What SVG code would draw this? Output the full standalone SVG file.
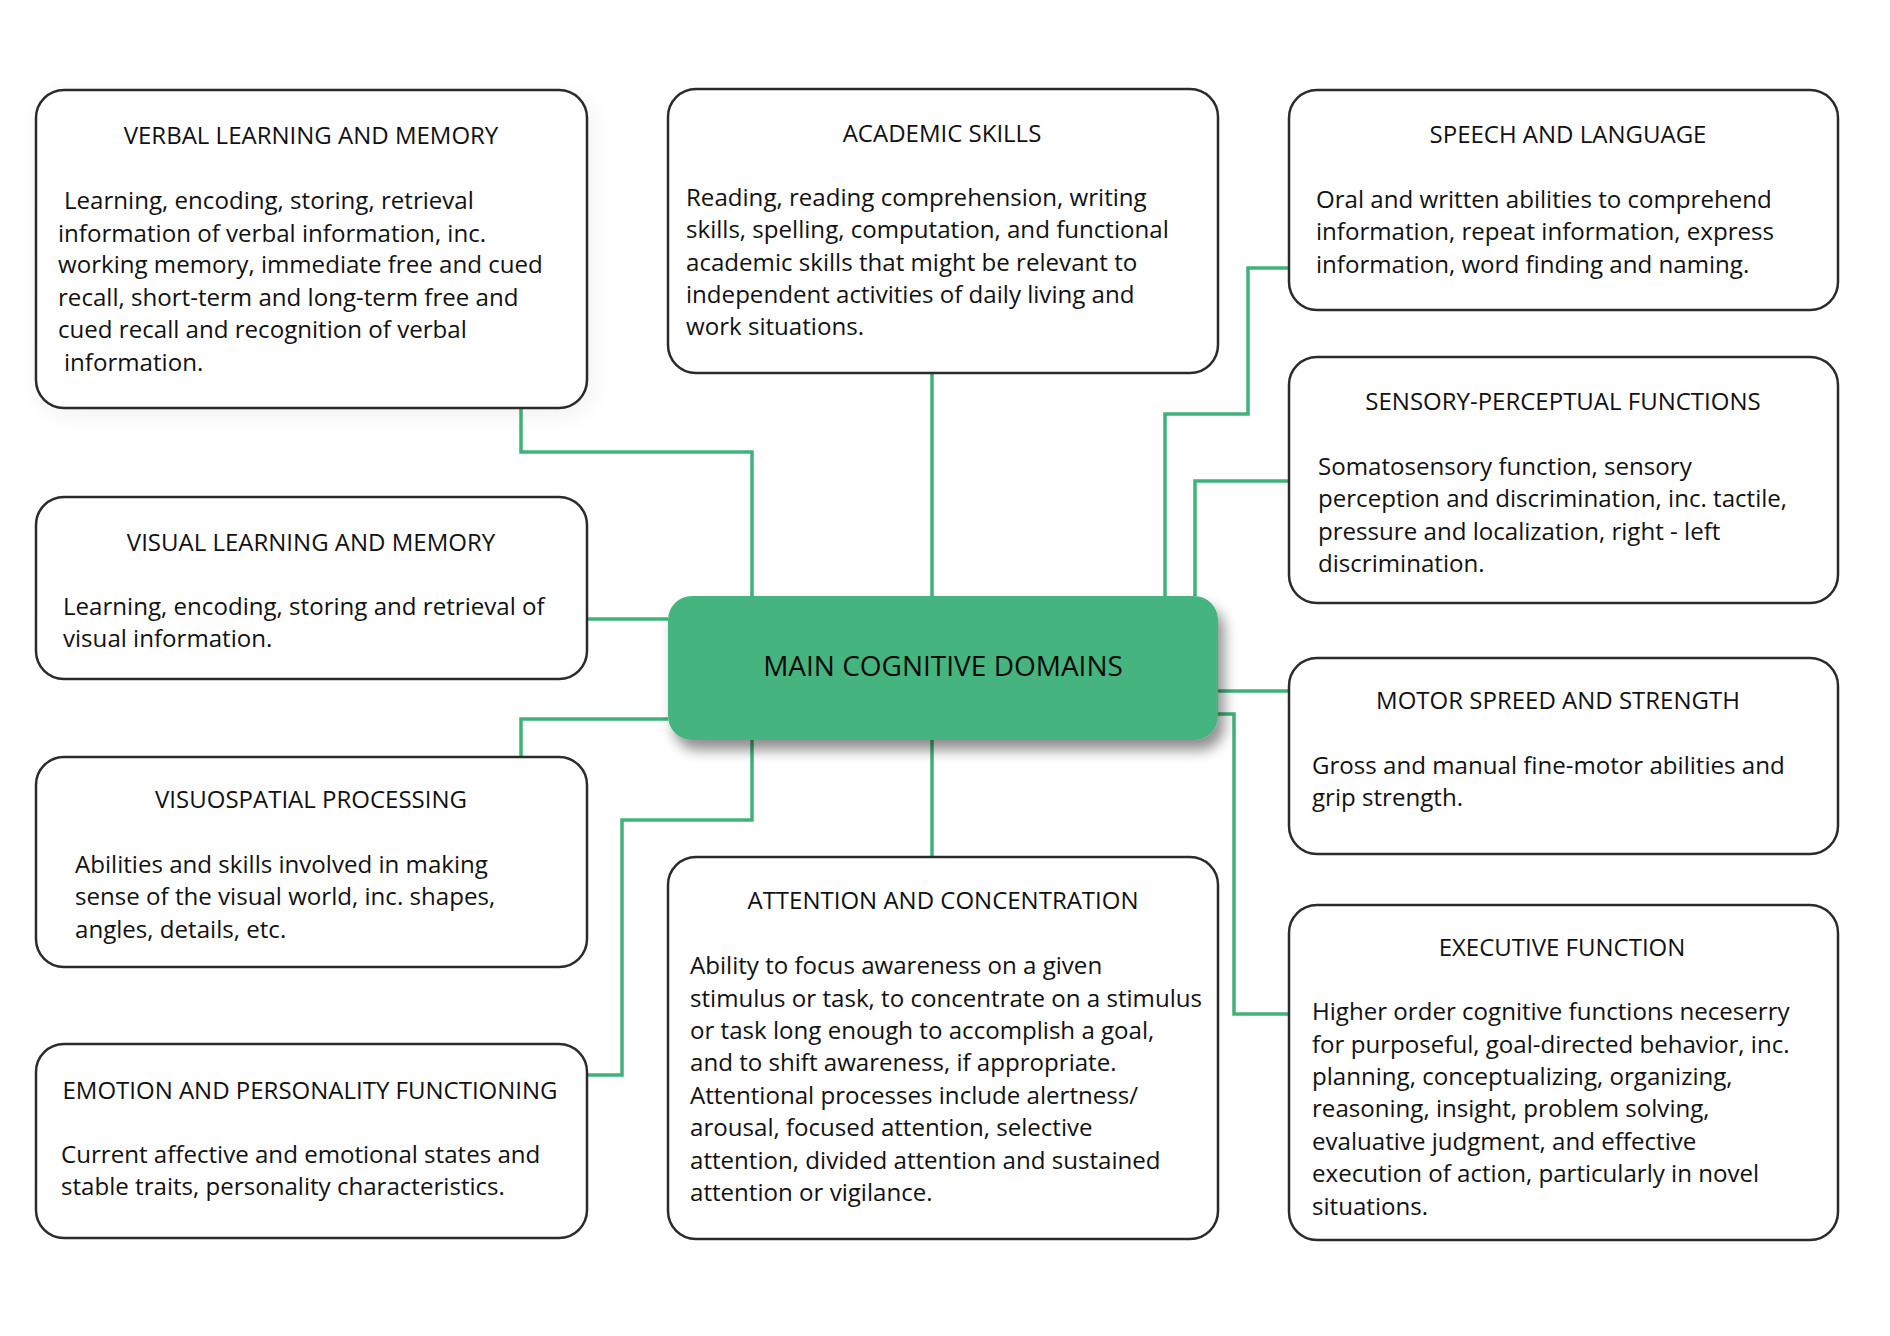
<svg xmlns="http://www.w3.org/2000/svg" width="1890" height="1336" viewBox="0 0 1890 1336">
<defs>
<style>
.box{fill:#fff;stroke:#2b2b2b;stroke-width:2.5}
.main{fill:#45b47f}
.t{font-family:"Open Sans","Noto Sans",sans-serif;font-size:24px;fill:#111;text-anchor:middle}
.b{font-family:"Open Sans","Noto Sans",sans-serif;font-size:24.1px;fill:#111}
.mt{font-family:"Open Sans","Noto Sans",sans-serif;font-size:28px;fill:#0a0a0a;text-anchor:middle}
.c{fill:none;stroke:#3fb37a;stroke-width:3.5}
</style>
<filter id="sh" x="-10%" y="-10%" width="130%" height="140%">
<feGaussianBlur in="SourceAlpha" stdDeviation="7"/>
<feOffset dx="6" dy="10" result="o"/>
<feComponentTransfer><feFuncA type="linear" slope="0.45"/></feComponentTransfer>
<feMerge><feMergeNode/><feMergeNode in="SourceGraphic"/></feMerge>
</filter>
<filter id="sh2" x="-10%" y="-10%" width="130%" height="130%">
<feGaussianBlur in="SourceAlpha" stdDeviation="12"/>
<feOffset dx="4" dy="6" result="o"/>
<feComponentTransfer><feFuncA type="linear" slope="0.06"/></feComponentTransfer>
<feMerge><feMergeNode/><feMergeNode in="SourceGraphic"/></feMerge>
</filter>
</defs>
<rect width="1890" height="1336" fill="#fff"/>
<g id="connectors">
<path class="c" d="M521,408 V452 H752 V596"/>
<path class="c" d="M932,373 V596"/>
<path class="c" d="M1289,268 H1248 V414 H1165 V596"/>
<path class="c" d="M1289,481 H1195 V596"/>
<path class="c" d="M587,619 H668"/>
<path class="c" d="M521,757 V719 H668"/>
<path class="c" d="M587,1075 H622 V820 H752 V740"/>
<path class="c" d="M932,740 V857"/>
<path class="c" d="M1218,691 H1289"/>
<path class="c" d="M1218,714 H1234 V1014 H1289"/>
</g>
<g id="verbal">
<rect class="box" x="36" y="90" width="551" height="318" rx="28" filter="url(#sh2)"/>
<text class="t" x="311" y="144">VERBAL LEARNING AND MEMORY</text>
<text class="b" x="64" y="209">Learning, encoding, storing, retrieval</text>
<text class="b" x="58" y="242">information of verbal information, inc.</text>
<text class="b" x="58" y="273">working memory, immediate free and cued</text>
<text class="b" x="58" y="306">recall, short-term and long-term free and</text>
<text class="b" x="58" y="338">cued recall and recognition of verbal</text>
<text class="b" x="64" y="371">information.</text>
</g>
<g id="academic">
<rect class="box" x="668" y="89" width="550" height="284" rx="28"/>
<text class="t" x="942" y="142">ACADEMIC SKILLS</text>
<text class="b" x="686" y="206">Reading, reading comprehension, writing</text>
<text class="b" x="686" y="238">skills, spelling, computation, and functional</text>
<text class="b" x="686" y="271">academic skills that might be relevant to</text>
<text class="b" x="686" y="303">independent activities of daily living and</text>
<text class="b" x="686" y="335">work situations.</text>
</g>
<g id="speech">
<rect class="box" x="1289" y="90" width="549" height="220" rx="28"/>
<text class="t" x="1568" y="143">SPEECH AND LANGUAGE</text>
<text class="b" x="1316" y="208">Oral and written abilities to comprehend</text>
<text class="b" x="1316" y="240">information, repeat information, express</text>
<text class="b" x="1316" y="273">information, word finding and naming.</text>
</g>
<g id="sensory">
<rect class="box" x="1289" y="357" width="549" height="246" rx="28"/>
<text class="t" x="1563" y="410">SENSORY-PERCEPTUAL FUNCTIONS</text>
<text class="b" x="1318" y="475">Somatosensory function, sensory</text>
<text class="b" x="1318" y="507">perception and discrimination, inc. tactile,</text>
<text class="b" x="1318" y="540">pressure and localization, right - left</text>
<text class="b" x="1318" y="572">discrimination.</text>
</g>
<g id="visual">
<rect class="box" x="36" y="497" width="551" height="182" rx="28"/>
<text class="t" x="311" y="551">VISUAL LEARNING AND MEMORY</text>
<text class="b" x="63" y="615">Learning, encoding, storing and retrieval of</text>
<text class="b" x="63" y="647">visual information.</text>
</g>
<g id="main">
<rect class="main" x="668" y="596" width="550" height="144" rx="24" filter="url(#sh)"/>
<text class="mt" x="943" y="676">MAIN COGNITIVE DOMAINS</text>
</g>
<g id="motor">
<rect class="box" x="1289" y="658" width="549" height="196" rx="28"/>
<text class="t" x="1558" y="709">MOTOR SPREED AND STRENGTH</text>
<text class="b" x="1312" y="774">Gross and manual fine-motor abilities and</text>
<text class="b" x="1312" y="806">grip strength.</text>
</g>
<g id="visuospatial">
<rect class="box" x="36" y="757" width="551" height="210" rx="28"/>
<text class="t" x="311" y="808">VISUOSPATIAL PROCESSING</text>
<text class="b" x="75" y="873">Abilities and skills involved in making</text>
<text class="b" x="75" y="905">sense of the visual world, inc. shapes,</text>
<text class="b" x="75" y="938">angles, details, etc.</text>
</g>
<g id="attention">
<rect class="box" x="668" y="857" width="550" height="382" rx="28"/>
<text class="t" x="943" y="909">ATTENTION AND CONCENTRATION</text>
<text class="b" x="690" y="974">Ability to focus awareness on a given</text>
<text class="b" x="690" y="1007">stimulus or task, to concentrate on a stimulus</text>
<text class="b" x="690" y="1039">or task long enough to accomplish a goal,</text>
<text class="b" x="690" y="1071">and to shift awareness, if appropriate.</text>
<text class="b" x="690" y="1104">Attentional processes include alertness/</text>
<text class="b" x="690" y="1136">arousal, focused attention, selective</text>
<text class="b" x="690" y="1169">attention, divided attention and sustained</text>
<text class="b" x="690" y="1201">attention or vigilance.</text>
</g>
<g id="executive">
<rect class="box" x="1289" y="905" width="549" height="335" rx="28"/>
<text class="t" x="1562" y="956">EXECUTIVE FUNCTION</text>
<text class="b" x="1312" y="1020">Higher order cognitive functions neceserry</text>
<text class="b" x="1312" y="1053">for purposeful, goal-directed behavior, inc.</text>
<text class="b" x="1312" y="1085">planning, conceptualizing, organizing,</text>
<text class="b" x="1312" y="1117">reasoning, insight, problem solving,</text>
<text class="b" x="1312" y="1150">evaluative judgment, and effective</text>
<text class="b" x="1312" y="1182">execution of action, particularly in novel</text>
<text class="b" x="1312" y="1215">situations.</text>
</g>
<g id="emotion">
<rect class="box" x="36" y="1044" width="551" height="194" rx="28"/>
<text class="t" x="310" y="1099">EMOTION AND PERSONALITY FUNCTIONING</text>
<text class="b" x="61" y="1163">Current affective and emotional states and</text>
<text class="b" x="61" y="1195">stable traits, personality characteristics.</text>
</g>
</svg>
